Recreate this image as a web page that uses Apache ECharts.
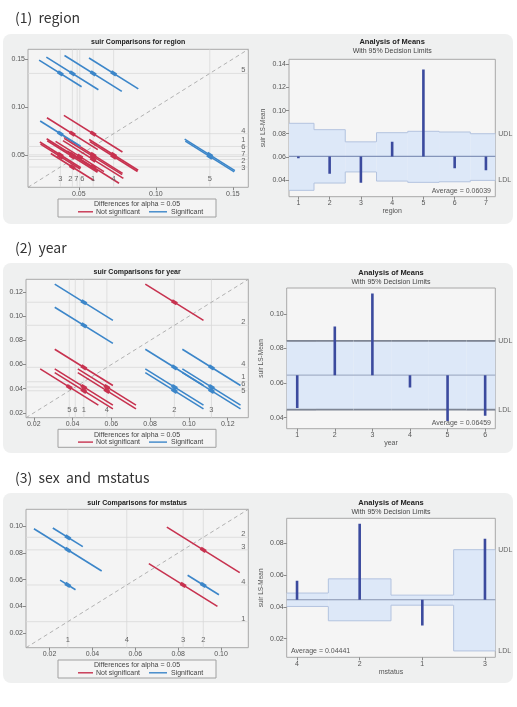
<!DOCTYPE html>
<html>
<head>
<meta charset="utf-8">
<script src="https://cdn.jsdelivr.net/npm/echarts@6/dist/echarts.min.js"></script>
<style>
html, body { margin: 0; padding: 0; background: #fff; }
#main { width: 517px; height: 707px; }
</style>
</head>
<body>
<div id="main"></div>
<script>
// ---- (1) region ----
var regionLevels = ['1', '2', '3', '4', '5', '6', '7'];
var regionMeans = [0.0593, 0.0458, 0.0380, 0.0726, 0.1350, 0.0506, 0.0489];
var regionAvg = 0.06039;
var regionUDL = [0.0890, 0.0835, 0.0730, 0.0809, 0.0821, 0.0815, 0.0800];
var regionLDL = [0.0311, 0.0374, 0.0470, 0.0391, 0.0380, 0.0385, 0.0397];
// pair [level i, level j, half length of the diffogram segment]
var regionPairs = [
  ['1', '2', 0.0196], ['1', '3', 0.0168], ['1', '4', 0.0190], ['1', '5', 0.0186], ['1', '6', 0.0191], ['1', '7', 0.0188],
  ['2', '3', 0.0140], ['2', '4', 0.0165], ['2', '5', 0.0169], ['2', '6', 0.0167], ['2', '7', 0.0163],
  ['3', '4', 0.0131], ['3', '5', 0.0138], ['3', '6', 0.0133], ['3', '7', 0.0129],
  ['4', '5', 0.0160], ['4', '6', 0.0159], ['4', '7', 0.0155],
  ['5', '6', 0.0163], ['5', '7', 0.0159],
  ['6', '7', 0.0157]
];
var regionRightLabels = ['1', '2', '3', '4', '5', '6', '7'];

// ---- (2) year ----
var yearLevels = ['1', '2', '3', '4', '5', '6'];
var yearMeans = [0.0458, 0.0925, 0.1116, 0.0577, 0.0383, 0.0414];
var yearAvg = 0.06459;
var yearUDL = [0.0844, 0.0844, 0.0844, 0.0844, 0.0844, 0.0844];
var yearLDL = [0.0446, 0.0446, 0.0446, 0.0446, 0.0446, 0.0446];
var yearPairs = [
  ['1', '2', 0.0150], ['1', '3', 0.0150], ['1', '4', 0.0150], ['1', '5', 0.0150], ['1', '6', 0.0150],
  ['2', '3', 0.0150], ['2', '4', 0.0150], ['2', '5', 0.0150], ['2', '6', 0.0150],
  ['3', '4', 0.0150], ['3', '5', 0.0150], ['3', '6', 0.0150],
  ['4', '5', 0.0150], ['4', '6', 0.0150],
  ['5', '6', 0.0150]
];
var yearRightLabels = ['1', '2', '4', '5', '6'];

// ---- (3) mstatus ----
var mstatusLevels = ['1', '2', '3', '4'];
var mstatusMeans = [0.0285, 0.0917, 0.0823, 0.0560];
var mstatusAvg = 0.04441;
var mstatusOrder = ['4', '2', '1', '3'];          // order on the ANOM axis
var mstatusUDL = [0.0486, 0.0575, 0.0473, 0.0758]; // in mstatusOrder
var mstatusLDL = [0.0402, 0.0312, 0.0410, 0.0123];
var mstatusPairs = [
  ['1', '2', 0.0070], ['1', '3', 0.0158], ['1', '4', 0.0036],
  ['2', '3', 0.0170], ['2', '4', 0.0073],
  ['3', '4', 0.0160]
];
var mstatusRightLabels = ['1', '2', '3', '4'];

var RED = '#c7324f', BLUE = '#3c86c9', NAVY = '#3b4a9e';
var FONT = '"Liberation Sans", Arial, sans-serif';

var panels = [
  {
    name: 'region', levels: regionLevels, means: regionMeans, pairs: regionPairs, rightLabels: regionRightLabels,
    avg: regionAvg, order: regionLevels, udl: regionUDL, ldl: regionLDL, avgText: 'Average = 0.06039',
    head: '(1)  region', headY: 18, panelY: 34,
    diff: { left: 28, top: 49.3, width: 220.3, height: 138, min: 0.017, max: 0.16, ticks: [0.05, 0.10, 0.15], titleY: 42 },
    anom: { left: 289, top: 59.3, width: 206.3, height: 137.4, xmin: 0.7, xmax: 7.3, ymin: 0.0256, ymax: 0.1443,
            ticks: [0.04, 0.06, 0.08, 0.10, 0.12, 0.14], titleY: 42, edge: '#b3c3df', edgeW: 1, avgCol: '#8595ba',
            avgX: 491, avgY: 191, avgAlign: 'right' },
    legY: 199
  },
  {
    name: 'year', levels: yearLevels, means: yearMeans, pairs: yearPairs, rightLabels: yearRightLabels,
    avg: yearAvg, order: yearLevels, udl: yearUDL, ldl: yearLDL, avgText: 'Average = 0.06459',
    head: '(2)  year', headY: 248, panelY: 263,
    diff: { left: 26, top: 279.3, width: 222.3, height: 138.4, min: 0.016, max: 0.1306, ticks: [0.02, 0.04, 0.06, 0.08, 0.10, 0.12], titleY: 272.3 },
    anom: { left: 286.7, top: 288, width: 208.6, height: 140.7, xmin: 0.72, xmax: 6.27, ymin: 0.0336, ymax: 0.115,
            ticks: [0.04, 0.06, 0.08, 0.10], titleY: 272.7, edge: '#7e8593', edgeW: 1.8, avgCol: '#a4b1c9',
            avgX: 491, avgY: 423, avgAlign: 'right' },
    legY: 429.3
  },
  {
    name: 'mstatus', levels: mstatusLevels, means: mstatusMeans, pairs: mstatusPairs, rightLabels: mstatusRightLabels,
    avg: mstatusAvg, order: mstatusOrder, udl: mstatusUDL, ldl: mstatusLDL, avgText: 'Average = 0.04441',
    head: '(3)  sex  and  mstatus', headY: 478, panelY: 493,
    diff: { left: 26, top: 509.3, width: 222.3, height: 138.4, min: 0.009, max: 0.1127, ticks: [0.02, 0.04, 0.06, 0.08, 0.10], titleY: 502.7 },
    anom: { left: 286.7, top: 518.3, width: 208.6, height: 139, xmin: 0.835, xmax: 4.165, ymin: 0.0083, ymax: 0.0955,
            ticks: [0.02, 0.04, 0.06, 0.08], titleY: 502.7, edge: '#b3c3df', edgeW: 1, avgCol: '#8795b0',
            avgX: 291, avgY: 651, avgAlign: 'left' },
    legY: 660
  }
];

function txt(s, x, y, font, fill, align, valign) {
  return {
    type: 'text',
    style: { text: s, x: x, y: y, font: font, fill: fill || '#555',
             textAlign: align || 'center', align: align || 'center',
             textVerticalAlign: valign || 'middle', verticalAlign: valign || 'middle' }
  };
}
function seg(x1, y1, x2, y2, col, w, dash) {
  return { type: 'line', shape: { x1: x1, y1: y1, x2: x2, y2: y2 },
           style: { stroke: col, lineWidth: w, lineDash: dash || null } };
}

// push overlapping labels apart (positions in pixels)
function spread(list, gap) {
  list.sort(function (a, b) { return a.p - b.p; });
  var cl = list.map(function (it) { return { items: [it], c: it.p }; });
  var merged = true;
  while (merged) {
    merged = false;
    for (var i = 0; i < cl.length - 1; i++) {
      var a = cl[i], b = cl[i + 1];
      if ((b.c - (b.items.length - 1) * gap / 2) - (a.c + (a.items.length - 1) * gap / 2) < gap) {
        var all = a.items.concat(b.items), s = 0;
        all.forEach(function (it) { s += it.p; });
        cl.splice(i, 2, { items: all, c: s / all.length });
        merged = true;
        break;
      }
    }
  }
  cl.forEach(function (c) {
    c.items.forEach(function (it, k) { it.q = c.c + (k - (c.items.length - 1) / 2) * gap; });
  });
}

var fmt2 = function (v) { return v.toFixed(2); };

function valueAxis(gi, min, max, ticks, fmt) {
  return {
    type: 'value', gridIndex: gi, min: min, max: max,
    axisLine: { show: false },
    axisTick: { show: true, length: 3, customValues: ticks, lineStyle: { color: '#8a8a8a', width: 1 } },
    axisLabel: { customValues: ticks, formatter: fmt, fontSize: 7, color: '#555', fontFamily: FONT, margin: 3 },
    splitLine: { show: false }
  };
}

var grids = [], xAxes = [], yAxes = [], series = [], graphics = [];

panels.forEach(function (p, k) {
  var gd = 2 * k, ga = 2 * k + 1;
  var d = p.diff, a = p.anom;

  grids.push({ left: d.left, top: d.top, width: d.width, height: d.height, show: true,
               backgroundColor: '#f4f4f4', borderColor: '#a8a8a8', borderWidth: 1,
               containLabel: false, outerBoundsMode: 'none' });
  grids.push({ left: a.left, top: a.top, width: a.width, height: a.height, show: true,
               backgroundColor: '#f5f5f5', borderColor: '#a8a8a8', borderWidth: 1,
               containLabel: false, outerBoundsMode: 'none' });

  xAxes.push(valueAxis(gd, d.min, d.max, d.ticks, fmt2));
  yAxes.push(valueAxis(gd, d.min, d.max, d.ticks, fmt2));

  var pos = p.order.map(function (l, i) { return i + 1; });
  var xa = valueAxis(ga, a.xmin, a.xmax, pos, function (v) { return p.order[Math.round(v) - 1]; });
  xa.name = p.name; xa.nameLocation = 'middle'; xa.nameGap = 11;
  xa.nameTextStyle = { fontSize: 7, color: '#555', fontFamily: FONT };
  xAxes.push(xa);
  var ya = valueAxis(ga, a.ymin, a.ymax, a.ticks, fmt2);
  ya.name = 'suir LS-Mean'; ya.nameLocation = 'middle'; ya.nameGap = 22;
  ya.nameTextStyle = { fontSize: 6.5, color: '#555', fontFamily: FONT };
  yAxes.push(ya);

  var levels = p.levels, means = p.means;

  // reference lines at every LS-mean
  series.push({
    type: 'custom', xAxisIndex: gd, yAxisIndex: gd, z: 1, clip: true, silent: true,
    data: means.map(function (m) { return [m, m]; }),
    renderItem: function (params, api) {
      var cs = params.coordSys, pt = api.coord([api.value(0), api.value(1)]);
      return { type: 'group', children: [
        seg(pt[0], cs.y, pt[0], cs.y + cs.height, '#d9d9d9', 0.8),
        seg(cs.x, pt[1], cs.x + cs.width, pt[1], '#d9d9d9', 0.8)
      ] };
    }
  });

  // diagonal
  series.push({
    type: 'custom', xAxisIndex: gd, yAxisIndex: gd, z: 2, clip: false, silent: true,
    data: [[d.min, d.min]],
    renderItem: function (params, api) {
      var cs = params.coordSys;
      return seg(cs.x, cs.y + cs.height, cs.x + cs.width, cs.y, '#a9a9a9', 0.9, [4, 3]);
    }
  });

  // diffogram segments
  series.push({
    type: 'custom', xAxisIndex: gd, yAxisIndex: gd, z: 3, clip: true, silent: true,
    data: p.pairs.map(function (pr) {
      var mi = means[levels.indexOf(pr[0])], mj = means[levels.indexOf(pr[1])];
      return [mi, mj, pr[2], Math.abs(mi - mj) > 2 * pr[2] ? 1 : 0];
    }),
    renderItem: function (params, api) {
      var x = api.value(0), y = api.value(1), h = api.value(2);
      var col = api.value(3) ? BLUE : RED;
      var p0 = api.coord([x - h, y + h]), p1 = api.coord([x + h, y - h]), c = api.coord([x, y]);
      var dx = p1[0] - p0[0], dy = p1[1] - p0[1], L = Math.sqrt(dx * dx + dy * dy);
      var ux = dx / L * 3, uy = dy / L * 3;
      return { type: 'group', children: [
        seg(p0[0], p0[1], p1[0], p1[1], col, 1.6),
        seg(c[0] - ux, c[1] - uy, c[0] + ux, c[1] + uy, col, 3.6)
      ] };
    }
  });

  // level labels along the bottom and the right side
  var rightLabels = p.rightLabels;
  series.push({
    type: 'custom', xAxisIndex: gd, yAxisIndex: gd, z: 5, clip: false, silent: true,
    data: [[d.min, d.min]],
    renderItem: function (params, api) {
      var cs = params.coordSys, kids = [];
      var bottom = levels.map(function (l, i) { return { t: l, p: api.coord([means[i], means[i]])[0] }; });
      var right = rightLabels.map(function (l) {
        var m = means[levels.indexOf(l)];
        return { t: l, p: api.coord([m, m])[1] };
      });
      spread(bottom, 6);
      spread(right, 7);
      bottom.forEach(function (it) {
        kids.push(txt(it.t, it.q, cs.y + cs.height - 8, '7.5px ' + FONT, '#666', 'center', 'middle'));
      });
      right.forEach(function (it) {
        kids.push(txt(it.t, cs.x + cs.width - 3, it.q - 3, '7.5px ' + FONT, '#666', 'right', 'middle'));
      });
      return { type: 'group', children: kids };
    }
  });

  // ANOM decision band
  var udl = p.udl, ldl = p.ldl, avg = p.avg, n = p.order.length;
  series.push({
    type: 'custom', xAxisIndex: ga, yAxisIndex: ga, z: 1, clip: false, silent: true,
    data: pos.map(function (v, i) { return [v, ldl[i], udl[i]]; }),
    renderItem: function (params, api) {
      var i = params.dataIndex, cs = params.coordSys, v = api.value(0);
      var xl = Math.max(api.coord([v - 0.5, avg])[0], cs.x);
      var xr = Math.min(api.coord([v + 0.5, avg])[0], cs.x + cs.width);
      var yt = api.coord([v, udl[i]])[1], yb = api.coord([v, ldl[i]])[1];
      var kids = [
        { type: 'rect', shape: { x: xl, y: yt, width: xr - xl, height: yb - yt }, style: { fill: '#dde8f8' } },
        seg(xl, yt, xr, yt, a.edge, a.edgeW),
        seg(xl, yb, xr, yb, a.edge, a.edgeW)
      ];
      if (i > 0) {
        var pt = api.coord([v, udl[i - 1]])[1], pb = api.coord([v, ldl[i - 1]])[1];
        kids.push(seg(xl, pt, xl, yt, a.edge, a.edgeW), seg(xl, pb, xl, yb, a.edge, a.edgeW));
      }
      if (i === n - 1) {
        var yav = api.coord([v, avg])[1];
        kids.push(seg(cs.x, yav, cs.x + cs.width, yav, a.avgCol, 1.2));
        kids.push(txt('UDL', cs.x + cs.width + 3, yt, '7px ' + FONT, '#666', 'left', 'middle'));
        kids.push(txt('LDL', cs.x + cs.width + 3, yb, '7px ' + FONT, '#666', 'left', 'middle'));
      }
      return { type: 'group', children: kids };
    }
  });

  // ANOM needles from the average to each LS-mean
  series.push({
    type: 'custom', xAxisIndex: ga, yAxisIndex: ga, z: 3, clip: true, silent: true,
    data: p.order.map(function (l, i) { return [i + 1, means[levels.indexOf(l)]]; }),
    renderItem: function (params, api) {
      var c0 = api.coord([api.value(0), avg]), c1 = api.coord([api.value(0), api.value(1)]);
      return seg(c0[0], c0[1], c1[0], c1[1] + (c1[1] > c0[1] ? 0.5 : -0.5), NAVY, 2.6);
    }
  });

  // panel background, headings, titles, legend
  graphics.push({ type: 'rect', z: -100, shape: { x: 3, y: p.panelY, width: 510, height: 190, r: 8 },
                  style: { fill: '#eff0f0' } });
  graphics.push(Object.assign(txt(p.head, 15, p.headY, '14px "Noto Sans CJK KR", "Noto Sans", sans-serif', '#333', 'left', 'middle'), { z: 100 }));
  graphics.push(Object.assign(txt('suir Comparisons for ' + p.name, d.left + d.width / 2, d.titleY, 'bold 7px ' + FONT, '#222'), { z: 100 }));
  graphics.push(Object.assign(txt('Analysis of Means', a.left + a.width / 2, a.titleY, 'bold 7.5px ' + FONT, '#222'), { z: 100 }));
  graphics.push(Object.assign(txt('With 95% Decision Limits', a.left + a.width / 2, a.titleY + 9.5, '7px ' + FONT, '#444'), { z: 100 }));
  graphics.push(Object.assign(txt(p.avgText, a.avgX, a.avgY, '7px ' + FONT, '#555', a.avgAlign, 'middle'), { z: 100 }));

  var ly = p.legY;
  graphics.push({ type: 'rect', z: 50, shape: { x: 58, y: ly, width: 158, height: 18 },
                  style: { fill: '#f4f4f4', stroke: '#a0a0a0', lineWidth: 1 } });
  graphics.push(Object.assign(txt('Differences for alpha = 0.05', 137, ly + 5.5, '7px ' + FONT, '#444'), { z: 100 }));
  graphics.push(Object.assign(seg(78, ly + 12.8, 93, ly + 12.8, RED, 1.4), { z: 100 }));
  graphics.push(Object.assign(txt('Not significant', 96, ly + 12.8, '7px ' + FONT, '#444', 'left', 'middle'), { z: 100 }));
  graphics.push(Object.assign(seg(149, ly + 12.8, 167, ly + 12.8, BLUE, 1.4), { z: 100 }));
  graphics.push(Object.assign(txt('Significant', 171, ly + 12.8, '7px ' + FONT, '#444', 'left', 'middle'), { z: 100 }));
});

var chart = echarts.init(document.getElementById('main'));
chart.setOption({
  animation: false,
  backgroundColor: '#ffffff',
  grid: grids,
  xAxis: xAxes,
  yAxis: yAxes,
  series: series,
  graphic: { elements: graphics }
});
</script>
</body>
</html>
